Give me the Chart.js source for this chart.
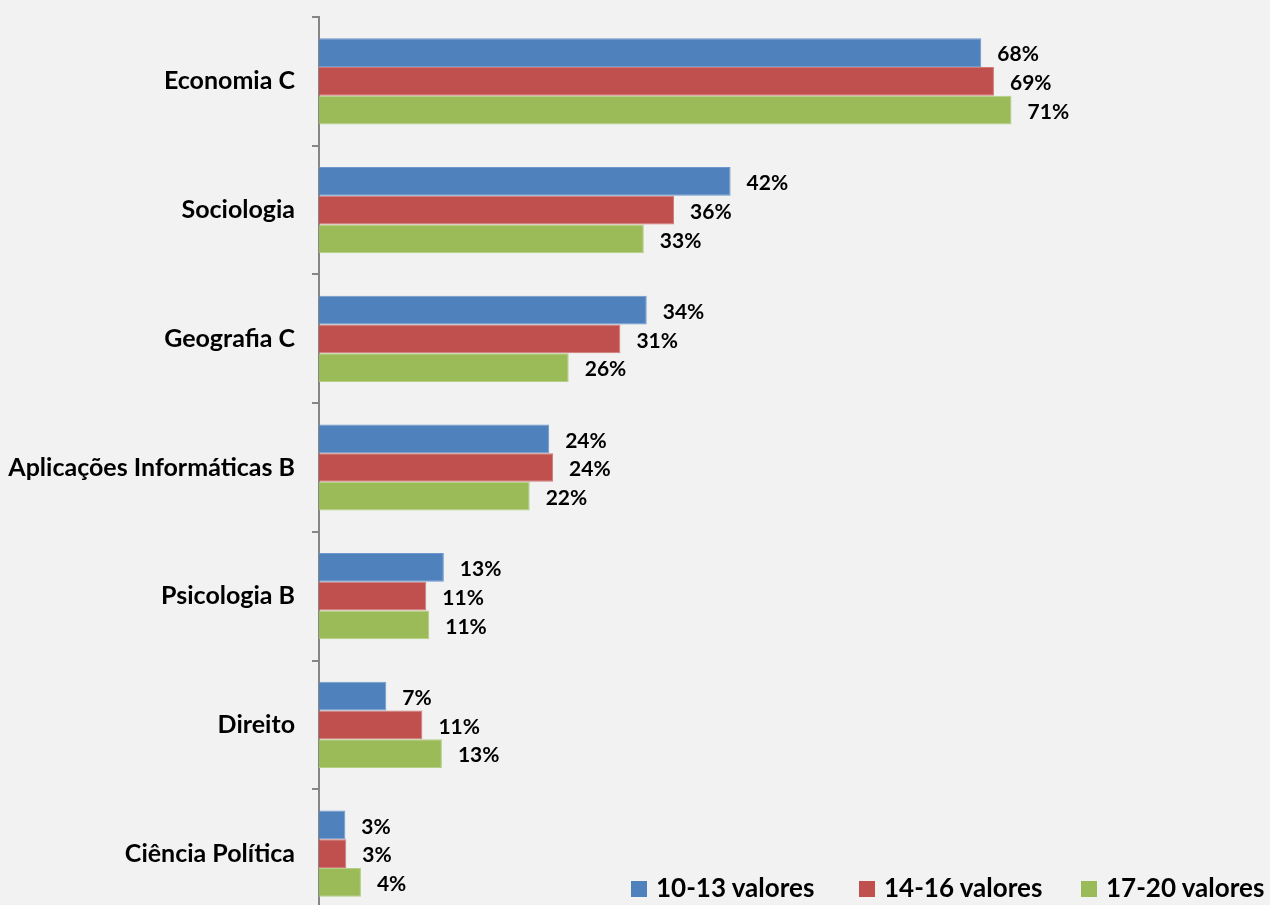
<!DOCTYPE html>
<html>
<head>
<meta charset="utf-8">
<script src="https://cdn.jsdelivr.net/npm/chart.js@4.4.1/dist/chart.umd.min.js"></script>
<style>
  html, body { margin: 0; padding: 0; background: #f2f2f2; overflow: hidden; }
  #wrap { position: relative; width: 1270px; height: 918px; }
  .sw { position: absolute; top: 881px; width: 16px; height: 16px; }
  .lt { position: absolute; top: 874px; white-space: nowrap; line-height: 26px; font-family: Lato, sans-serif; font-weight: bold; font-size: 26px; color: #000; }
</style>
</head>
<body>
<div id="wrap">
  <canvas id="chart"></canvas>
</div>
<script>
const categories = ['Economia C', 'Sociologia', 'Geografia C', 'Aplicações Informáticas B', 'Psicologia B', 'Direito', 'Ciência Política'];
const seriesNames = ['10-13 valores', '14-16 valores', '17-20 valores'];
const low = [67.9, 42.2, 33.6, 23.6, 12.8, 6.9, 2.7];
const mid = [69.2, 36.4, 30.9, 24.0, 11.0, 10.6, 2.8];
const high = [71.0, 33.3, 25.6, 21.6, 11.3, 12.6, 4.3];
const colors = ['#4f81bd', '#c0504d', '#9bbb59'];
const borders = ['#6f98cc', '#d07a77', '#b4cf84'];
const legendX = [631, 859, 1081];

const ctx = document.getElementById('chart');

// value labels drawn next to each bar end
const barLabels = {
    id: 'barLabels',
    afterDatasetsDraw(chart) {
        const c = chart.ctx;
        c.save();
        c.font = 'bold 21px Lato';
        c.fillStyle = '#000';
        c.textAlign = 'left';
        c.textBaseline = 'middle';
        chart.data.datasets.forEach((ds, i) => {
            chart.getDatasetMeta(i).data.forEach((bar, j) => {
                c.fillText(Math.round(ds.data[j]) + '%', bar.x + 16, bar.y + 2);
            });
        });
        c.restore();
    }
};

new Chart(ctx, {
    type: 'bar',
    data: {
        labels: categories,
        datasets: [low, mid, high].map((d, i) => ({
            label: seriesNames[i],
            data: d,
            backgroundColor: colors[i],
            borderColor: borders[i],
            borderWidth: 1,
            categoryPercentage: 0.67,
            barPercentage: 1.0
        }))
    },
    options: {
        indexAxis: 'y',
        responsive: true,
        maintainAspectRatio: false,
        animation: false,
        layout: { padding: { top: 17, left: 0, right: 0, bottom: 0 } },
        plugins: {
            legend: { display: false },
            tooltip: { enabled: false }
        },
        scales: {
            x: { display: false, min: 0, max: 97.5 },
            y: {
                afterFit: (scale) => {
                    scale.width = 319;
                    scale.paddingTop = 0;
                    scale.paddingBottom = 0;
                },
                border: { display: true, color: '#868686', width: 2 },
                grid: { drawOnChartArea: false, drawTicks: true, tickLength: 7, color: '#868686', lineWidth: 2 },
                ticks: {
                    color: '#000',
                    padding: 17,
                    font: { family: 'Lato', weight: 'bold', size: 25 }
                }
            }
        }
    },
    plugins: [barLabels]
});

const wrap = document.getElementById('wrap');
seriesNames.forEach((name, i) => {
    wrap.insertAdjacentHTML('beforeend',
        `<div class="sw" style="left:${legendX[i]}px;background:${colors[i]}"></div>` +
        `<div class="lt" style="left:${legendX[i] + 25}px">${name}</div>`);
});
</script>
</body>
</html>
